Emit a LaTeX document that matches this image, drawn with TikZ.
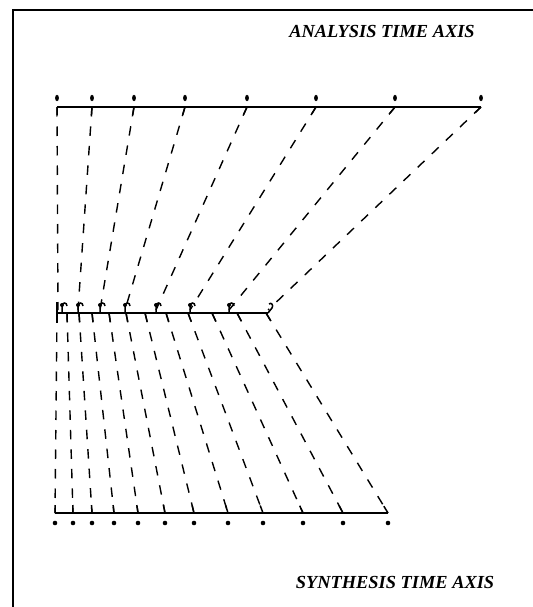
\documentclass[tikz,border=0pt]{standalone}
\usepackage{fontspec}
\setmainfont{Liberation Serif}
\usetikzlibrary{calc}
\begin{document}
\begin{tikzpicture}[x=1bp,y=-1bp,
  axisline/.style={line width=2.2bp},
  frameline/.style={line width=1.1bp},
  mapline/.style={line width=1.4bp, dash pattern=on 9.5bp off 10bp},
  endtick/.style={line width=1.5bp},
  label/.style={font=\fontsize{18.4bp}{21bp}\selectfont\bfseries\itshape, inner sep=0pt}]
\useasboundingbox (0,0) rectangle (533,607);
% frame
\draw[frameline] (533,10) -- (13,10) -- (13,607);
% labels
\node[label] (ta) at (382,32) {ANALYSIS TIME AXIS};
\node[label] (ts) at (395,582) {SYNTHESIS TIME AXIS};
% analysis axis
\foreach \i/\x in {1/57,2/92,3/134,4/185,5/247,6/316,7/395,8/481}{
  \coordinate (a\i) at (\x,107);
  \fill (\x,98) ellipse (1.9bp and 3.2bp);
}
\draw[axisline] (a1) -- (a8);
% middle axis: analysis marks
\foreach \i/\x in {1/58,2/78,3/100,4/125,5/156,6/190,7/229,8/268}{
  \coordinate (m\i) at (\x,310);
}
\foreach \x in {62,78,100,125,156,190,229}{
  \draw[endtick] (\x,313) -- (\x,306) .. controls (\x,302) and ($(\x,302)+(5,0)$) .. ($(\x,306)+(5,0)$);
  \fill (\x,305) circle (2bp);
}
\draw[endtick] (268,313) -- (272,308) .. controls (274,305) and (271,302) .. (269,304);
% middle axis: synthesis marks
\foreach \i/\x in {1/57,2/67,3/79,4/92,5/109,6/126,7/145,8/166,9/188,10/212,11/237,12/266}{
  \coordinate (n\i) at (\x,313);
}
\coordinate (mL) at (57,313);
\coordinate (mR) at (268,313);
\draw[axisline] (mL) -- (mR);
\draw[line width=1.8bp] (57,302) -- (57,323);
% synthesis axis
\foreach \i/\x in {1/55,2/73,3/92,4/114,5/138,6/165,7/194,8/228,9/263,10/303,11/343,12/388}{
  \coordinate (b\i) at (\x,513);
  \fill (\x,523) circle (2.3bp);
}
\draw[axisline] (b1) -- (b12);
% mapping lines analysis -> middle
\foreach \i in {1,...,8}{
  \draw[mapline] (a\i) -- (m\i);
  \draw[endtick] (a\i) -- ($(a\i)!8bp!(m\i)$);
}
% mapping lines middle -> synthesis
\foreach \i in {1,...,12}{
  \draw[mapline] (n\i) -- (b\i);
  \draw[endtick] (n\i) -- ($(n\i)!9bp!(b\i)$);
  \draw[endtick] (b\i) -- ($(b\i)!8bp!(n\i)$);
}
\end{tikzpicture}
\end{document}
